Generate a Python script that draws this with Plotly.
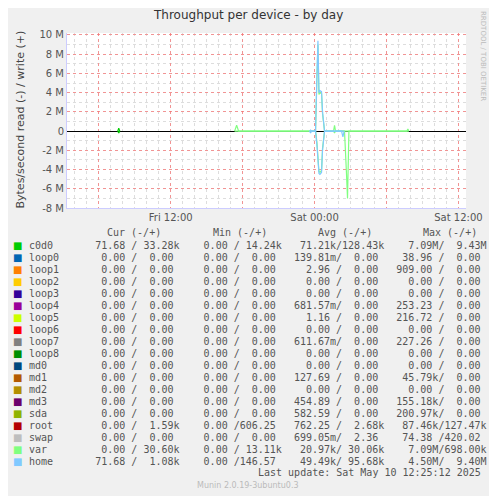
import plotly.graph_objects as go

# series (write positive, read negative)
home_t = ["2025-05-09 23:35", "2025-05-09 23:40", "2025-05-09 23:45", "2025-05-10 00:05",
          "2025-05-10 00:12", "2025-05-10 00:17", "2025-05-10 00:22", "2025-05-10 00:27",
          "2025-05-10 00:35", "2025-05-10 00:40", "2025-05-10 00:50", "2025-05-10 02:15",
          "2025-05-10 02:22", "2025-05-10 02:28"]
home_w = [0, 0.1e6, 0, 0, 6.0e6, 9.4e6, 4.0e6, 4.2e6, 4.1e6, 2.0e6, 0, 0, 0, 0]
home_r = [0, -0.2e6, 0, 0, -1.5e6, -3.0e6, -4.4e6, -4.5e6, -4.3e6, -2.0e6, 0, 0, -0.6e6, 0]

var_t = ["2025-05-09 17:20", "2025-05-09 17:30", "2025-05-09 17:40", "2025-05-10 00:05",
         "2025-05-10 00:12", "2025-05-10 00:17", "2025-05-10 00:22", "2025-05-10 00:27",
         "2025-05-10 00:35", "2025-05-10 00:40", "2025-05-10 00:50", "2025-05-10 01:35",
         "2025-05-10 01:40", "2025-05-10 01:45", "2025-05-10 02:30", "2025-05-10 02:40",
         "2025-05-10 02:45", "2025-05-10 02:52", "2025-05-10 07:42", "2025-05-10 07:47",
         "2025-05-10 07:52"]
var_w = [0, 0.6e6, 0, 0, 5.5e6, 9.0e6, 3.8e6, 4.0e6, 3.9e6, 1.8e6, 0, 0, 0.6e6, 0,
         0, 0, 0, 0, 0, 0.2e6, 0]
var_r = [0, 0, 0, 0, -1.2e6, -2.8e6, -4.2e6, -4.3e6, -4.1e6, -1.8e6, 0, 0, -0.2e6, 0,
         0, -4.5e6, -7.0e6, 0, 0, 0, 0]

c0d0_t = ["2025-05-09 07:35", "2025-05-09 07:40", "2025-05-09 07:45"]
c0d0_w = [0, 0.3e6, 0]
c0d0_r = [0, -0.2e6, 0]

names = ["c0d0", "loop0", "loop1", "loop2", "loop3", "loop4", "loop5", "loop6", "loop7",
         "loop8", "md0", "md1", "md2", "md3", "sda", "root", "swap", "var", "home"]
colors = ["#00cc00", "#0066b3", "#ff8000", "#ffcc00", "#330099", "#990099", "#ccff00",
          "#ff0000", "#808080", "#008f00", "#00487d", "#b35a00", "#b38f00", "#6b006b",
          "#8fb300", "#b30000", "#bebebe", "#80ff80", "#80c9ff"]
cur = ["71.68 /33.28k", "0.00 /0.00 ", "0.00 /0.00 ", "0.00 /0.00 ", "0.00 /0.00 ",
       "0.00 /0.00 ", "0.00 /0.00 ", "0.00 /0.00 ", "0.00 /0.00 ", "0.00 /0.00 ",
       "0.00 /0.00 ", "0.00 /0.00 ", "0.00 /0.00 ", "0.00 /0.00 ", "0.00 /0.00 ",
       "0.00 /1.59k", "0.00 /0.00 ", "0.00 /30.60k", "71.68 /1.08k"]
mins = ["0.00 /14.24k", "0.00 /0.00 ", "0.00 /0.00 ", "0.00 /0.00 ", "0.00 /0.00 ",
        "0.00 /0.00 ", "0.00 /0.00 ", "0.00 /0.00 ", "0.00 /0.00 ", "0.00 /0.00 ",
        "0.00 /0.00 ", "0.00 /0.00 ", "0.00 /0.00 ", "0.00 /0.00 ", "0.00 /0.00 ",
        "0.00 /606.25 ", "0.00 /0.00 ", "0.00 /13.11k", "0.00 /146.57 "]
avgs = ["71.21k/128.43k", "139.81m/0.00 ", "2.96 /0.00 ", "0.00 /0.00 ", "0.00 /0.00 ",
        "681.57m/0.00 ", "1.16 /0.00 ", "0.00 /0.00 ", "611.67m/0.00 ", "0.00 /0.00 ",
        "0.00 /0.00 ", "127.69 /0.00 ", "0.00 /0.00 ", "454.89 /0.00 ", "582.59 /0.00 ",
        "762.25 /2.68k", "699.05m/2.36 ", "20.97k/30.06k", "49.49k/95.68k"]
maxs = ["7.09M/9.43M", "38.96 /0.00 ", "909.00 /0.00 ", "0.00 /0.00 ", "0.00 /0.00 ",
        "253.23 /0.00 ", "216.72 /0.00 ", "0.00 /0.00 ", "227.26 /0.00 ", "0.00 /0.00 ",
        "0.00 /0.00 ", "45.79k/0.00 ", "0.00 /0.00 ", "155.18k/0.00 ", "200.97k/0.00 ",
        "87.46k/127.47k", "74.38 /420.02 ", "7.09M/698.00k", "4.50M/9.40M"]

ytick_vals = [-8e6, -6e6, -4e6, -2e6, 0, 2e6, 4e6, 6e6, 8e6, 10e6]
ytick_text = ["-8 M", "-6 M", "-4 M", "-2 M", "0", "2 M", "4 M", "6 M", "8 M", "10 M"]
xtick_vals = ["2025-05-09 06:00", "2025-05-09 12:00", "2025-05-09 18:00",
              "2025-05-10 00:00", "2025-05-10 06:00", "2025-05-10 12:00"]
xtick_text = ["", "Fri 12:00", "", "Sat 00:00", "", "Sat 12:00"]

# the page body has an 8px margin, so lay out in reference pixels minus 8
OFF = 8
W, H = 497 - OFF, 496 - OFF
L, R, T, B = 67 - OFF, 466 - OFF, 33 - OFF, 208 - OFF
def fx(px): return (px - OFF - L) / (R - L)
def fy(py): return (B - (py - OFF)) / (B - T)

def field(s):
    a, b = s.split("/")
    if not a.endswith(" ") and a[-1].isdigit():
        a += " "
    if b[-1].isdigit():
        b += " "
    return a.rjust(7) + "/" + b.rjust(7)

fig = go.Figure()
for t, w, r, c in [(c0d0_t, c0d0_w, c0d0_r, colors[0]), (var_t, var_w, var_r, colors[17]),
                   (home_t, home_w, home_r, colors[18])]:
    fig.add_trace(go.Scatter(x=t, y=w, mode="lines", line=dict(color=c, width=1.2)))
    fig.add_trace(go.Scatter(x=t, y=r, mode="lines", line=dict(color=c, width=1.2)))

mono = dict(family="DejaVu Sans Mono", size=10, color="#555555")
ann = []
for lab, cx in [("Cur (-/+)", 134), ("Min (-/+)", 240), ("Avg (-/+)", 345), ("Max (-/+)", 450)]:
    ann.append(dict(x=fx(cx), y=fy(232), text=lab, xanchor="center"))
for i, n in enumerate(names):
    py = 245 + 12 * i
    line = n.ljust(10) + "  ".join(field(s) for s in (cur[i], mins[i], avgs[i], maxs[i]))
    ann.append(dict(x=fx(27), y=fy(py), text=line.replace(" ", "&nbsp;"), xanchor="left"))
    ann.append(dict(x=fx(17), y=fy(py), text="■", xanchor="center",
                    font=dict(family="DejaVu Sans", size=10, color=colors[i])))
ann.append(dict(x=fx(483), y=fy(472), text="Last update: Sat May 10 12:25:12 2025".replace(" ", "&nbsp;"),
                xanchor="right"))
ann.append(dict(x=fx(248), y=fy(485), text="Munin 2.0.19-3ubuntu0.3", xanchor="center",
                font=dict(family="DejaVu Sans", size=8, color="#bbbbbb")))
ann.append(dict(x=fx(248), y=fy(15), text="Throughput per device - by day", xanchor="center",
                font=dict(family="DejaVu Sans", size=12, color="#333333")))
ann.append(dict(x=fx(11), y=fy(120), text="Bytes/second read (-) / write (+)", textangle=-90,
                font=dict(family="DejaVu Sans", size=11, color="#444444")))
ann.append(dict(x=fx(489), y=fy(56), text="RRDTOOL / TOBI OETIKER", textangle=90,
                font=dict(family="DejaVu Sans", size=7, color="#bbbbbb")))
for a in ann:
    a.update(xref="paper", yref="paper", showarrow=False, yanchor="middle")
    a.setdefault("font", mono)
fig.update_layout(annotations=ann)

fig.update_layout(
    width=W, height=H, showlegend=False,
    margin=dict(l=L, r=W - R, t=T, b=H - B, pad=0),
    paper_bgcolor="#f0f0f0", plot_bgcolor="white",
    font=dict(family="DejaVu Sans", size=10, color="#555555"),
)
fig.update_xaxes(range=["2025-05-09 03:21", "2025-05-10 12:38"],
                 tickvals=xtick_vals, ticktext=xtick_text, ticks="",
                 showgrid=True, gridcolor="rgba(255,100,100,0.6)", griddash="dot", gridwidth=1,
                 minor=dict(dtick=3600000, tick0="2025-05-09 00:00", showgrid=True,
                            gridcolor="#dddddd", griddash="dot"),
                 showline=True, linecolor="#ccccff", zeroline=False)
fig.update_yaxes(range=[-8e6, 10.2e6], tickvals=ytick_vals, ticktext=ytick_text, ticks="",
                 showgrid=True, gridcolor="rgba(255,100,100,0.6)", griddash="dot",
                 minor=dict(dtick=1e6, showgrid=True, gridcolor="#dddddd", griddash="dot"),
                 zeroline=True, zerolinecolor="black", zerolinewidth=1,
                 showline=True, linecolor="#ccccff")

fig.write_html("out.html")
